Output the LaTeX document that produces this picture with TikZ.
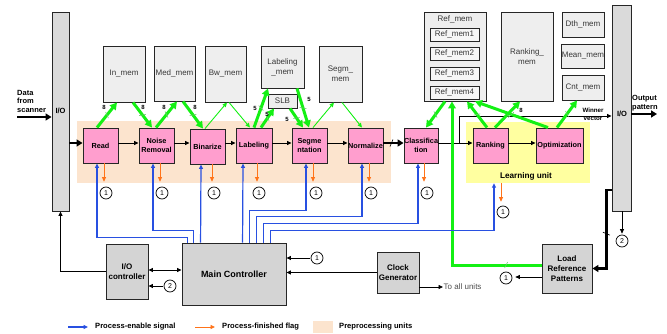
\documentclass[tikz,border=0pt]{standalone}
\usepackage{fontspec}
\setmainfont{Liberation Sans}
\usetikzlibrary{arrows.meta,decorations.markings,calc}

\definecolor{unitpink}{RGB}{255,158,206}
\definecolor{prepeach}{RGB}{252,228,206}
\definecolor{learnyellow}{RGB}{255,255,160}
\definecolor{memgray}{RGB}{238,238,238}
\definecolor{subgray}{RGB}{246,246,246}
\definecolor{ctrlgray}{RGB}{212,212,212}
\definecolor{iogray}{RGB}{218,218,218}
\definecolor{busgreen}{RGB}{20,240,20}
\definecolor{tickgreen}{RGB}{110,200,110}
\definecolor{enblue}{RGB}{40,80,225}
\definecolor{flagorange}{RGB}{255,115,25}
\definecolor{memtext}{RGB}{55,55,55}

\tikzset{
  unit/.style={draw=black!85, line width=0.9pt, fill=unitpink, inner sep=0pt,
    minimum height=35pt, align=center, font=\bfseries\fontsize{7.3}{9}\selectfont},
  mem/.style={draw=black!85, line width=0.9pt, fill=memgray, inner sep=0pt,
    align=center, text=memtext, font=\fontsize{8}{10}\selectfont},
  submem/.style={mem, fill=subgray, minimum width=49pt, minimum height=13pt},
  memlbl/.style={inner sep=0pt, text=memtext, font=\fontsize{8}{10}\selectfont},
  ctrl/.style={draw=black!85, line width=0.9pt, fill=ctrlgray, inner sep=0pt,
    align=center, font=\bfseries\fontsize{8}{10}\selectfont},
  iobar/.style={draw=black!85, line width=0.9pt, fill=iogray, inner sep=0pt},
  iotxt/.style={inner sep=0pt, font=\bfseries\fontsize{7.5}{9}\selectfont},
  num/.style={circle, draw=black, line width=0.7pt, fill=white, inner sep=0pt,
    minimum size=12pt, font=\fontsize{7}{7}\selectfont},
  busw/.style={inner sep=0pt, font=\bfseries\fontsize{6}{6}\selectfont},
  legend/.style={inner sep=0pt, font=\bfseries\fontsize{7.6}{9}\selectfont},
  gbusat/.style={draw=busgreen, line width=3pt, -{Triangle[length=7pt,width=7.5pt]},
    postaction={decorate}, decoration={markings, mark=at position #1 with
      {\draw[-, tickgreen, line width=0.6pt] (-1.5pt,-3pt) -- (1.5pt,3pt);}}},
  gbus/.style={gbusat=0.5},
  gwire/.style={draw=busgreen, line width=0.9pt, -{Triangle[length=4.5pt,width=4pt]}},
  enable/.style={draw=enblue, line width=1.2pt, -{Triangle[length=4.5pt,width=4pt]}},
  flag/.style={draw=flagorange, line width=0.9pt, -{Triangle[length=4.5pt,width=4pt]}},
  ctl/.style={draw=black, line width=0.8pt, -{Triangle[length=4.5pt,width=4pt]}},
  bigarrow/.style={draw=black, line width=2.6pt, -{Triangle[length=6pt,width=7pt]}},
  blackbusat/.style={draw=black, line width=2.4pt, -{Triangle[length=6pt,width=7pt]},
    postaction={decorate}, decoration={markings, mark=at position #1 with
      {\draw[-, black, line width=0.6pt] (-1.5pt,-3.5pt) -- (1.5pt,3.5pt);}}},
}

\begin{document}
\begin{tikzpicture}[x=1pt,y=-1pt]
\useasboundingbox (0,0) rectangle (667,334);

% shaded groups
\node[fill=prepeach, minimum width=314pt, minimum height=62pt, inner sep=0pt] (preband) at (234,152) {};
\node[fill=learnyellow, minimum width=124pt, minimum height=61pt, inner sep=0pt] (learnband) at (528,152.5) {};
\node[inner sep=0pt, font=\bfseries\fontsize{8.2}{9}\selectfont] (learnlbl) at (526,176) {Learning unit};

% I/O bars
\node[iobar, minimum width=17pt, minimum height=199pt] (ioL) at (60.5,111.5) {};
\node[iotxt] (ioLtxt) at (60.5,111) {I/O};
\node[iobar, minimum width=19pt, minimum height=206pt] (ioR) at (621.5,108) {};
\node[iotxt] (ioRtxt) at (622,114) {I/O};

% processing units
\node[unit, text width=35pt] (read)  at (100.5,145.5) {Read};
\node[unit, text width=35pt] (noise) at (156.5,145.5) {Noise\\Removal};
\node[unit, text width=35pt] (bin)   at (207.5,146.5) {Binarize};
\node[unit, text width=36pt] (lab)   at (254,145.5) {Labeling};
\node[unit, text width=35pt] (seg)   at (309.5,145.5) {Segme\\ntation};
\node[unit, text width=35pt] (norm)  at (365.5,145.5) {Normalize};
\node[unit, text width=34pt] (cls)   at (421,145.5) {Classifica\\tion};
\node[unit, text width=35pt] (rank)  at (490.5,145.5) {Ranking};
\node[unit, text width=47pt] (opt)   at (559.5,145.5) {Optimization};

% memories
\node[mem, minimum width=42pt, minimum height=56pt] (inmem)  at (124,74) {In\_mem};
\node[mem, minimum width=41pt, minimum height=55pt] (medmem) at (174.5,73.5) {Med\_mem};
\node[mem, minimum width=41pt, minimum height=56pt] (bwmem)  at (225.5,74) {Bw\_mem};
\node[mem, minimum width=43pt, minimum height=42pt] (labmem) at (282.5,67) {Labeling\\\_mem};
\node[mem, minimum width=29pt, minimum height=14pt] (slb)    at (282.5,101) {SLB};
\node[mem, minimum width=43pt, minimum height=56pt] (segmem) at (340.5,74) {Segm\_\\mem};

\node[mem, minimum width=62pt, minimum height=89pt] (refmem) at (455,56.5) {};
\node[memlbl] (reftitle) at (455,19) {Ref\_mem};
\node[submem] (ref1) at (454.5,34.5) {Ref\_mem1};
\node[submem] (ref2) at (454.5,53.5) {Ref\_mem2};
\node[submem] (ref3) at (454.5,73.5) {Ref\_mem3};
\node[submem] (ref4) at (454.5,92.5) {Ref\_mem4};

\node[mem, minimum width=52pt, minimum height=89pt] (rankmem) at (527,56.5) {Ranking\_\\mem};
\node[mem, minimum width=42pt, minimum height=25pt] (dthmem)  at (583,24.5) {Dth\_mem};
\node[mem, minimum width=42pt, minimum height=24pt] (meanmem) at (583,56) {Mean\_mem};
\node[mem, minimum width=42pt, minimum height=25pt] (cntmem)  at (583,87.5) {Cnt\_mem};

% control blocks
\node[ctrl, minimum width=104pt, minimum height=62pt, font=\bfseries\fontsize{9}{11}\selectfont] (main) at (234,274) {Main Controller};
\node[ctrl, minimum width=42pt, minimum height=55pt] (ioc)   at (127,271.5) {I/O\\controller};
\node[ctrl, minimum width=42pt, minimum height=41pt] (clock) at (398,272.5) {Clock\\Generator};
\node[ctrl, minimum width=50pt, minimum height=49pt] (lrp)   at (567,268.5) {Load\\Reference\\Patterns};

% numbered flags
\node[num] (f1) at (106,193) {1};
\node[num] (f2) at (162,193) {1};
\node[num] (f3) at (214,193) {1};
\node[num] (f4) at (259,193) {1};
\node[num] (f5) at (316,193) {1};
\node[num] (f6) at (371,193) {1};
\node[num] (f7) at (427,193) {1};
\node[num] (f8) at (503,212) {1};
\node[num] (c1main) at (317,258) {1};
\node[num] (c2io)   at (170,286) {2};
\node[num] (c1lrp)  at (506,278) {1};
\node[num] (c2out)  at (622,241) {2};

% data path
\coordinate (rowy) at (0,143);
\coordinate (scanin) at (17,117);
\node[anchor=west, align=left, inner sep=0pt, font=\bfseries\fontsize{7.5}{8.5}\selectfont] (scantxt) at (17,101) {Data\\from\\scanner};
\draw[bigarrow] (scanin) -- (scanin -| ioL.west);
\draw[bigarrow] (ioL.east |- rowy) -- (read.west |- rowy);
\draw[ctl] (read.east |- rowy) -- (noise.west |- rowy);
\draw[ctl] (noise.east |- rowy) -- (bin.west |- rowy);
\draw[ctl] (bin.east |- rowy) -- (lab.west |- rowy);
\draw[ctl] (lab.east |- rowy) -- (seg.west |- rowy);
\draw[ctl] (seg.east |- rowy) -- (norm.west |- rowy);
\draw[blackbusat=0.4] (norm.east |- rowy) -- (cls.west |- rowy);
\draw[ctl] (cls.east |- rowy) -- (rank.west |- rowy);
\draw[ctl] (rank.east |- rowy) -- (opt.west |- rowy);

\coordinate (wbranch) at (459,143);
\coordinate (winy) at (0,116);
\draw[ctl] (wbranch) |- (ioR.west |- winy);
\node[align=center, inner sep=0pt, font=\bfseries\fontsize{6.2}{8.5}\selectfont] (wvtxt) at (593,114.5) {Winner\\vector};

\coordinate (outp) at (657,114);
\draw[bigarrow] (ioR.east |- outp) -- (outp);
\node[anchor=west, align=left, inner sep=0pt, font=\bfseries\fontsize{7.5}{8.5}\selectfont] (outtxt) at (632,103) {Output\\pattern};

% memory traffic
\draw[gbus] ([xshift=-3.5pt]read.north) -- ([xshift=-7pt]inmem.south);
\draw[gbus] ([xshift=9pt]inmem.south) -- ([xshift=-4.5pt]noise.north);
\draw[gbus] ([xshift=-0.5pt]noise.north) -- ([xshift=2.5pt]medmem.south);
\draw[gbus] ([xshift=8.5pt]medmem.south) -- ([xshift=-4.5pt]bin.north);
\draw[gwire] ([xshift=-2.5pt]bin.north) -- ([xshift=1.5pt]bwmem.south);
\draw[gwire] ([xshift=3.5pt]bwmem.south) -- ([xshift=-4pt]lab.north);
\draw[gbus] (lab.north) -- ([xshift=-14.5pt]labmem.south);
\draw[gbus] ([xshift=7pt]lab.north) -- ([xshift=-8.5pt]slb.south);
\draw[gbus] ([xshift=7.5pt]slb.south) -- ([xshift=-6.5pt]seg.north);
\draw[gbus] ([xshift=14.5pt]labmem.south) -- ([xshift=-0.5pt]seg.north);
\draw[gwire] ([xshift=3.5pt]seg.north) -- ([xshift=-6.5pt]segmem.south);
\draw[gwire] ([xshift=1.5pt]segmem.south) -- ([xshift=-3.5pt]norm.north);
\draw[gbus] ([xshift=-10pt]refmem.south) -- ([xshift=5pt]cls.north);
\draw[gbus] ([xshift=-3.5pt]rank.north) -- ([xshift=12pt]refmem.south);
\draw[gbus] ([xshift=4.5pt]rank.north) -- ([xshift=-7pt]rankmem.south);
\draw[gbus] ([xshift=-11.5pt]opt.north) -- ([xshift=20pt]refmem.south);
\draw[gbus] ([xshift=-2.5pt]opt.north) -- ([xshift=-6pt]cntmem.south);
\draw[gbusat=0.14] ([yshift=3.5pt]lrp.west) -| ([xshift=-3pt]refmem.south);

% bus widths
\node[busw] (w1) at (104,107) {8};
\node[busw] (w2) at (143,107) {8};
\node[busw] (w3) at (164,107) {8};
\node[busw] (w4) at (195,107) {8};
\node[busw] (w5) at (255,108) {5};
\node[busw] (w6) at (267,114) {5};
\node[busw] (w7) at (287,119) {5};
\node[busw] (w8) at (309,99) {5};
\node[busw] (w9) at (521,110) {8};

% process-enable signals
\draw[enable] ([xshift=6pt]main.north west) -- ++(0,-5) -| ([xshift=-3.5pt]read.south);
\draw[enable] ([xshift=12pt]main.north west) -- ++(0,-12) -| ([xshift=-3.5pt]noise.south);
\draw[enable] ([xshift=19pt]main.north west) -- ([xshift=-6.5pt]bin.south);
\draw[enable] ([xshift=61pt]main.north west) -- ([xshift=-11pt]lab.south);
\draw[enable] ([xshift=68pt]main.north west) -- ++(0,-32) -| ([xshift=-3.5pt]seg.south);
\draw[enable] ([xshift=75pt]main.north west) -- ++(0,-26) -| ([xshift=-3.5pt]norm.south);
\draw[enable] ([xshift=82pt]main.north west) -- ++(0,-19) -| ([xshift=-3pt]cls.south);
\draw[enable] ([xshift=89pt]main.north west) -- ++(0,-12) -| ([xshift=-34pt]learnband.south);

% process-finished flags
\draw[flag, shorten >=5pt] ([xshift=3.5pt]read.south) -- ([xshift=3.5pt]read.south |- f1.north);
\draw[flag, shorten >=5pt] ([xshift=3.5pt]noise.south) -- ([xshift=3.5pt]noise.south |- f2.north);
\draw[flag, shorten >=5pt] ([xshift=4.5pt]bin.south) -- ([xshift=4.5pt]bin.south |- f3.north);
\draw[flag, shorten >=5pt] ([xshift=3pt]lab.south) -- ([xshift=3pt]lab.south |- f4.north);
\draw[flag, shorten >=5pt] ([xshift=3.5pt]seg.south) -- ([xshift=3.5pt]seg.south |- f5.north);
\draw[flag, shorten >=5pt] ([xshift=3.5pt]norm.south) -- ([xshift=3.5pt]norm.south |- f6.north);
\draw[flag, shorten >=5pt] ([xshift=3pt]cls.south) -- ([xshift=3pt]cls.south |- f7.north);
\draw[flag, shorten >=4pt] ([xshift=-27pt]learnband.south) -- ([xshift=-27pt]learnband.south |- f8.north);

% control connections
\draw[ctl] (ioc.west) -| (ioL.south);
\draw[ctl, {Triangle[length=4.5pt,width=4pt]}-{Triangle[length=4.5pt,width=4pt]}] ([yshift=1.5pt]ioc.east) -- ([yshift=1.5pt]ioc.east -| main.west);
\draw[ctl, shorten <=1pt] (c2io.west) -- (c2io.west -| ioc.east);
\draw[ctl, shorten <=1pt] (c1main.west) -- (c1main.west -| main.east);
\draw[ctl] (clock.west) -- (clock.west -| main.east);
\coordinate (allu) at (443,287);
\draw[ctl] ([yshift=-14.5pt]clock.east) -- (allu);
\node[anchor=west, inner sep=0.5pt, text=black!70, font=\fontsize{8}{9}\selectfont] (allutxt) at (allu) {To all units};
\draw[ctl, shorten >=3pt] ([yshift=-8.5pt]lrp.west) -- ([yshift=-8.5pt]lrp.west -| c1lrp.east);
\draw[ctl, shorten >=1pt] (ioR.south -| c2out) -- (c2out.north);
\draw[blackbusat=0.5] ([yshift=-82pt]ioR.west) -| ([xshift=14pt]lrp.east) -- (lrp.east);

% legend
\node[legend, anchor=west] (lg1) at (95,327) {Process-enable signal};
\draw[enable] ([xshift=-27pt]lg1.west) -- ([xshift=-7pt]lg1.west);
\node[legend, anchor=west] (lg2) at (222,327) {Process-finished flag};
\draw[flag] ([xshift=-27pt]lg2.west) -- ([xshift=-7pt]lg2.west);
\node[fill=prepeach, minimum width=20pt, minimum height=12pt, inner sep=0pt] (lg3box) at (323,327) {};
\node[legend, anchor=west] (lg3) at (339,327) {Preprocessing units};
\end{tikzpicture}
\end{document}
